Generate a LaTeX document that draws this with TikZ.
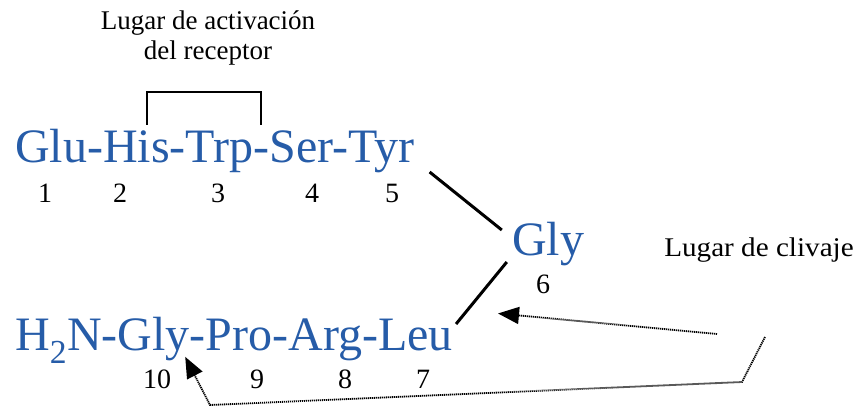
\documentclass[tikz,border=0pt]{standalone}
\usepackage{fontspec}
\setmainfont{Liberation Serif}
\usetikzlibrary{arrows.meta,calc}
\definecolor{pepblue}{RGB}{38,92,168}
\begin{document}
\begin{tikzpicture}[x=1pt,y=-1pt,
  residue/.style={inner sep=0pt, anchor=base west, text=pepblue,
    font=\fontsize{48}{52}\selectfont},
  num/.style={inner sep=0pt, anchor=base, font=\fontsize{28}{32}\selectfont},
  caption/.style={inner sep=0pt, anchor=base, font=\fontsize{27}{32}\selectfont},
  bond/.style={line width=3pt},
  bracketline/.style={line width=1.8pt},
  pointer/.style={line width=1.8pt, dash pattern=on 1.2pt off 0.8pt},
  tip/.style={-{Triangle[length=21pt,width=17pt]}}
]
\useasboundingbox (0,0) rectangle (861,406);

% caption of the activation site
\node[caption] (act1) at (208,30) {Lugar de activación};
\node[caption] (act2) at (208,60) {del receptor};

% upper chain
\node[residue] (top) at (15,163) {Glu-His-Trp-Ser-Tyr};
\node[num] (n1) at (45,202) {1};
\node[num] (n2) at (120,202) {2};
\node[num] (n3) at (218,202) {3};
\node[num] (n4) at (312,202) {4};
\node[num] (n5) at (392,202) {5};

% bracket over His-Trp
\draw[bracketline] (147,125) -- (147,92) -- (261,92) -- (261,125);

% turning residue
\node[residue, anchor=base] (gly) at (548,255) {Gly};
\node[num] (n6) at (543,293) {6};

% lower chain
\node[residue] (bot) at (15,350) {H\textsubscript{2}N-Gly-Pro-Arg-Leu};
\node[num] (n10) at (157,388) {10};
\node[num] (n9) at (257,388) {9};
\node[num] (n8) at (345,388) {8};
\node[num] (n7) at (423,388) {7};

% cleavage caption
\node[caption, xscale=1.08] (clv) at (759,256) {Lugar de clivaje};

% bonds
\draw[bond] ($(top.base east)+(15,9)$) -- ($(gly.base west)+(-10,-25)$);
\draw[bond] ($(gly.base west)+(-5,7)$) -- ($(bot.base east)+(3,-26)$);

% cleavage pointers
\coordinate (p1) at (717,334);
\coordinate (p2) at (765,337);
\coordinate (p3) at (742,382);
\coordinate (p4) at (210,405);
\draw[pointer, tip] (p1) -- ($(n6.south)+(-45,20)$);
\draw[pointer, tip] (p2) -- (p3) -- (p4) -- ($(n10.east)+(14,-22)$);
\end{tikzpicture}
\end{document}
